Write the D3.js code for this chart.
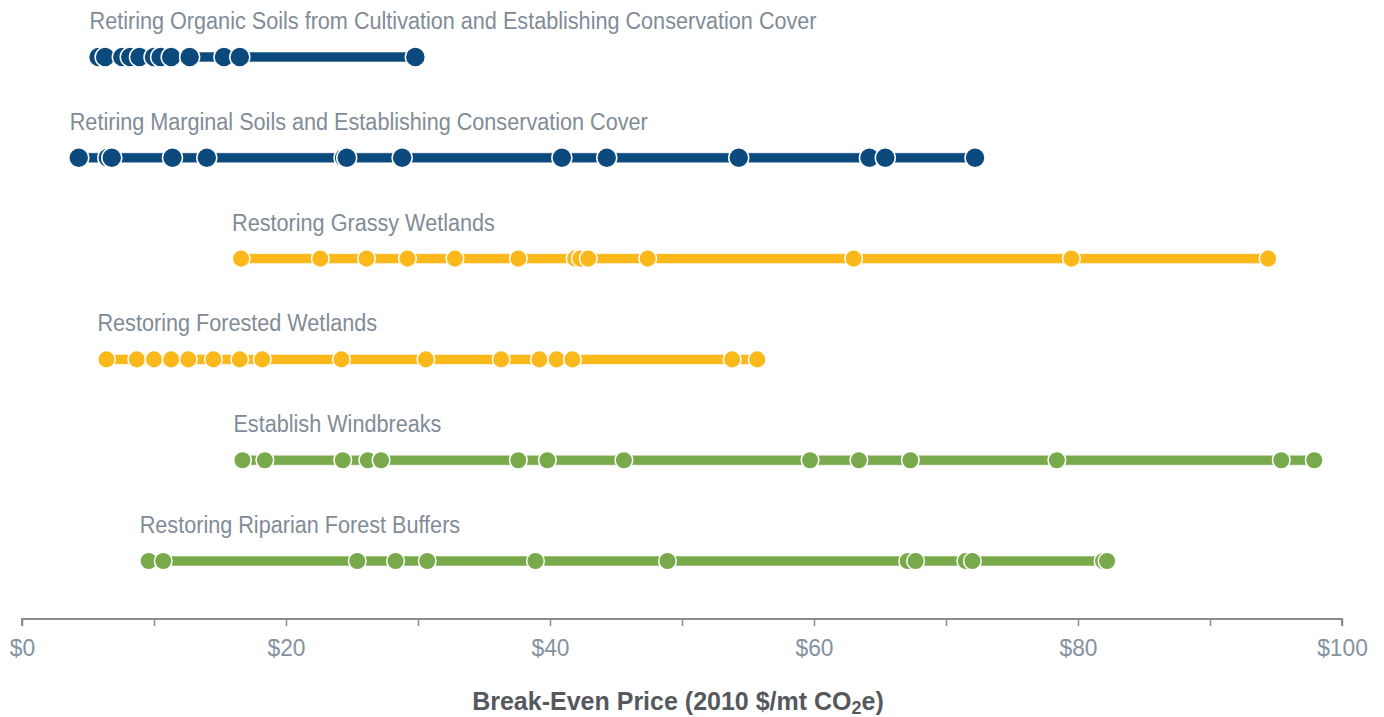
<!DOCTYPE html>
<html>
<head>
<meta charset="utf-8">
<script src="https://cdn.jsdelivr.net/npm/d3@7"></script>
<style>
  body { margin: 0; background: #fff; }
  svg text { font-family: "Liberation Sans Narrow", "Liberation Sans", sans-serif; }
</style>
</head>
<body>
<svg id="chart" width="1384" height="717"></svg>
<script>
// practices, top to bottom
const practices = [
  "Retiring Organic Soils from Cultivation and Establishing Conservation Cover",
  "Retiring Marginal Soils and Establishing Conservation Cover",
  "Restoring Grassy Wetlands",
  "Restoring Forested Wetlands",
  "Establish Windbreaks",
  "Restoring Riparian Forest Buffers"
];

// break-even prices ($/mt CO2e), one list per practice
const organicSoils = [5.8, 6.3, 7.6, 8.2, 8.9, 10.0, 10.5, 11.3, 12.7, 15.3, 16.5, 29.8];
const marginalSoils = [4.3, 6.5, 6.8, 11.4, 14.0, 24.4, 24.6, 28.8, 40.9, 44.3, 54.3, 64.2, 65.4, 72.2];
const grassyWetlands = [16.6, 22.6, 26.1, 29.2, 32.8, 37.6, 41.9, 42.3, 42.9, 47.4, 63.0, 79.5, 94.4];
const forestedWetlands = [6.4, 8.7, 10.0, 11.3, 12.6, 14.5, 16.5, 18.2, 24.2, 30.6, 36.3, 39.2, 40.5, 41.7, 53.8, 55.7];
const windbreaks = [16.7, 18.4, 24.3, 26.2, 27.2, 37.6, 39.8, 45.6, 59.7, 63.4, 67.3, 78.4, 95.4, 97.9];
const riparianBuffers = [9.6, 10.7, 25.4, 28.3, 30.7, 38.9, 48.9, 67.1, 67.7, 71.5, 72.0, 81.9, 82.2];

const tickValues = [0, 10, 20, 30, 40, 50, 60, 70, 80, 90, 100];
const tickLabels = ["$0", "", "$20", "", "$40", "", "$60", "", "$80", "", "$100"];

const rows = [
  { name: practices[0], values: organicSoils, color: "#0c4a7e", r: 10 },
  { name: practices[1], values: marginalSoils, color: "#0c4a7e", r: 10 },
  { name: practices[2], values: grassyWetlands, color: "#fbb81b", r: 8.8 },
  { name: practices[3], values: forestedWetlands, color: "#fbb81b", r: 8.8 },
  { name: practices[4], values: windbreaks, color: "#78a94a", r: 8.8 },
  { name: practices[5], values: riparianBuffers, color: "#78a94a", r: 8.8 }
];

const svg = d3.select("#chart");

const x = d3.scaleLinear().domain([0, 100]).range([22, 1342]);
const y = d3.scalePoint().domain(practices).range([57, 561]);

// squeeze text a bit to look like the condensed face of the original
function condense(sel, k) {
  sel.each(function() {
    const len = this.getComputedTextLength();
    d3.select(this).attr("textLength", len * k).attr("lengthAdjust", "spacingAndGlyphs");
  });
}

// axis
const axis = svg.append("g")
  .attr("transform", "translate(0,619)")
  .call(d3.axisBottom(x)
    .tickValues(tickValues)
    .tickSize(7)
    .tickPadding(13)
    .tickFormat((d, i) => tickLabels[i]));
axis.select(".domain").attr("stroke", "#8c8c8c").attr("stroke-width", 2)
  .attr("d", "M" + x(0) + ",7V0H" + x(100) + "V7");
axis.selectAll(".tick line").attr("stroke", "#8c8c8c").attr("stroke-width", 1.5);
axis.selectAll(".tick text")
  .attr("fill", "#8593a0")
  .style("font-size", "24px")
  .style("font-family", "'Liberation Sans Narrow', 'Liberation Sans', sans-serif")
  .call(condense, 0.95);

const title = svg.append("text")
  .attr("x", 678)
  .attr("y", 710)
  .attr("text-anchor", "middle")
  .attr("fill", "#55595d")
  .style("font-size", "25px")
  .style("font-weight", "bold");
title.append("tspan").text("Break-Even Price (2010 $/mt CO");
title.append("tspan").attr("dy", 4).style("font-size", "18px").text("2");
title.append("tspan").attr("dy", -4).text("e)");

// rows
const g = svg.selectAll("g.row")
  .data(rows)
  .join("g")
  .attr("class", "row")
  .attr("transform", d => "translate(0," + y(d.name) + ")");

g.append("text")
  .attr("x", d => x(d3.min(d.values)) - 9)
  .attr("y", -28)
  .attr("fill", "#7f8c97")
  .style("font-size", "23px")
  .text(d => d.name)
  .call(condense, 0.94);

// line segments between consecutive points, then the dots
g.each(function(d) {
  const sel = d3.select(this);
  const pairs = d3.pairs(d.values);
  sel.selectAll("rect.seg")
    .data(pairs)
    .join("rect")
    .attr("class", "seg")
    .attr("x", p => x(p[0]))
    .attr("y", -5)
    .attr("width", p => x(p[1]) - x(p[0]))
    .attr("height", 10)
    .attr("fill", d.color)
    .attr("stroke", "#fff")
    .attr("stroke-opacity", 0.6)
    .attr("stroke-width", 1);
  sel.selectAll("circle")
    .data(d.values)
    .join("circle")
    .attr("cx", v => x(v))
    .attr("cy", 0)
    .attr("r", d.r)
    .attr("fill", d.color)
    .attr("stroke", "#fff")
    .attr("stroke-width", 1.5);
});
</script>
</body>
</html>
